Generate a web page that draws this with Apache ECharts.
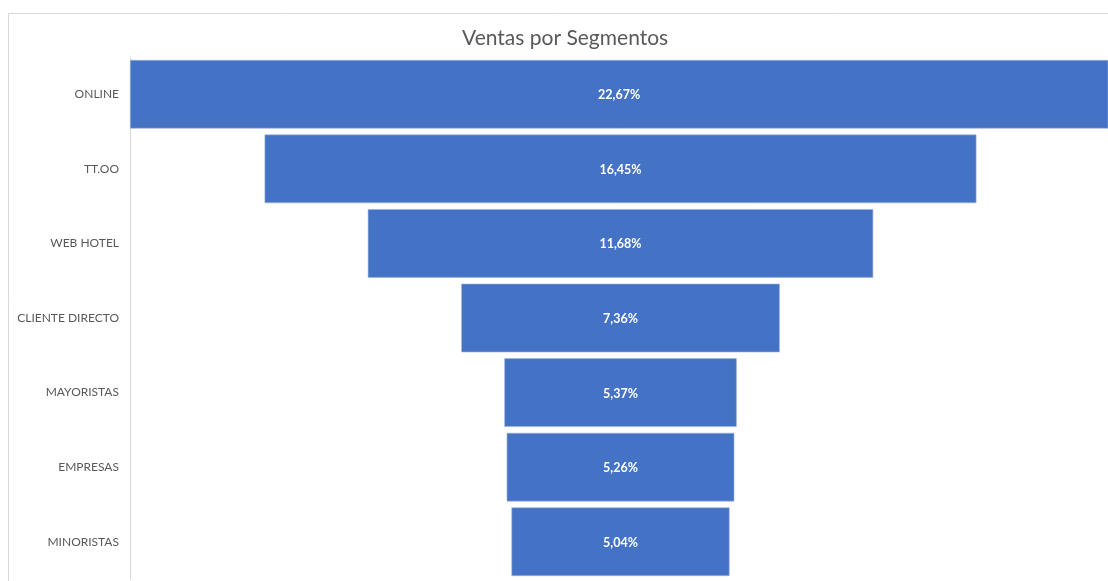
<!DOCTYPE html>
<html>
<head>
<meta charset="utf-8">
<script src="https://cdn.jsdelivr.net/npm/echarts@6/dist/echarts.min.js"></script>
<style>
  html, body { margin: 0; padding: 0; background: #fff; }
  #chart { width: 1108px; height: 581px; }
</style>
</head>
<body>
<div id="chart"></div>
<script>
// segmentos y porcentajes de ventas
let segmentos = ['ONLINE', 'TT.OO', 'WEB HOTEL', 'CLIENTE DIRECTO', 'MAYORISTAS', 'EMPRESAS', 'MINORISTAS']
let ventas = [22.67, 16.45, 11.68, 7.36, 5.37, 5.26, 5.04]

let maxVal = Math.max(...ventas)
// barra invisible para centrar cada barra (efecto embudo)
let relleno = ventas.map(v => (maxVal - v) / 2)

let fuente = 'Lato, "Open Sans", sans-serif'

let option = {
  animation: false,
  title: {
    text: 'Ventas por Segmentos',
    left: 457,
    top: 23,
    textStyle: {
      color: '#595959',
      fontSize: 21,
      fontWeight: 'normal',
      fontFamily: fuente,
    },
  },
  graphic: [{
    // marco del área del gráfico
    type: 'rect',
    shape: { x: 8.5, y: 13.5, width: 1200, height: 700 },
    style: { fill: null, stroke: '#d9d9d9', lineWidth: 1 },
    silent: true,
  }],
  grid: {
    left: 130,
    top: 57,
    right: 0,
    height: 522,
  },
  xAxis: {
    type: 'value',
    min: 0,
    // la barra mayor se sale un poco por la derecha (recortada)
    max: maxVal * 978 / 981,
    show: false,
  },
  yAxis: {
    type: 'category',
    inverse: true,
    data: segmentos,
    axisTick: { show: false },
    axisLine: { lineStyle: { color: '#d9d9d9', width: 1 } },
    axisLabel: {
      color: '#595959',
      fontSize: 12,
      margin: 11,
      padding: [2, 0, 0, 0],
      fontFamily: fuente,
    },
  },
  series: [{
      type: 'bar',
      stack: 'embudo',
      data: relleno,
      itemStyle: { color: 'transparent' },
      silent: true,
      barCategoryGap: '8%',
    },
    {
      type: 'bar',
      stack: 'embudo',
      data: ventas,
      barCategoryGap: '8%',
      itemStyle: {
        color: '#4472C4',
        borderColor: '#9fb6e0',
        borderWidth: 0.6,
      },
      label: {
        show: true,
        position: 'inside',
        offset: [0, 1],
        color: '#fff',
        fontWeight: 'bold',
        fontSize: 12.5,
        fontFamily: fuente,
        formatter: p => p.value.toFixed(2).replace('.', ',') + '%',
      },
    },
  ],
}

let myChart = echarts.init(document.getElementById('chart'))
myChart.setOption(option)
</script>
</body>
</html>
